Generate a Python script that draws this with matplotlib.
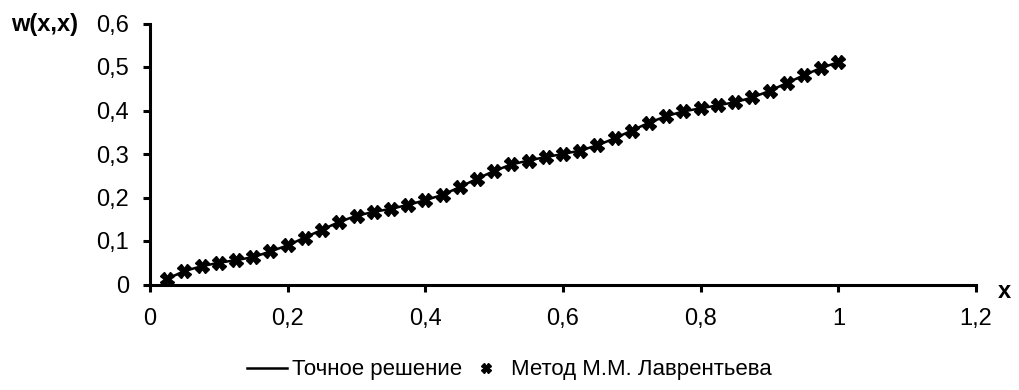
import matplotlib
matplotlib.use("Agg")
import matplotlib.pyplot as plt

plt.rcParams['font.family'] = ['Liberation Sans', 'DejaVu Sans']

# x nodes and values
x_nodes = [0.025 * i for i in range(1, 41)]
w_exact = [0.013, 0.031, 0.042, 0.050, 0.056, 0.063, 0.076, 0.090, 0.108, 0.126,
           0.144, 0.158, 0.167, 0.174, 0.183, 0.194, 0.206, 0.224, 0.243, 0.261,
           0.276, 0.285, 0.293, 0.300, 0.308, 0.320, 0.336, 0.354, 0.372, 0.387,
           0.398, 0.405, 0.412, 0.419, 0.430, 0.445, 0.463, 0.481, 0.498, 0.511]
w_method = list(w_exact)

x_ticks = [0, 0.2, 0.4, 0.6, 0.8, 1.0, 1.2]
x_labels = ["0", "0,2", "0,4", "0,6", "0,8", "1", "1,2"]
y_ticks = [0, 0.1, 0.2, 0.3, 0.4, 0.5, 0.6]
y_labels = ["0", "0,1", "0,2", "0,3", "0,4", "0,5", "0,6"]

W, H = 1019, 390
fig = plt.figure(figsize=(W / 100, H / 100), dpi=100)
ax = fig.add_axes([150 / W, 1 - 284.5 / H, 826 / W, 261 / H])

ax.plot(x_nodes, w_exact, color="black", lw=1.8, label="Точное решение", zorder=2)
ax.plot(x_nodes, w_method, ls="none", marker="X", ms=9.5, color="black",
        label="Метод М.М. Лаврентьева", zorder=3)

ax.set_xlim(0, 1.2)
ax.set_ylim(0, 0.6)
ax.set_xticks(x_ticks)
ax.set_xticklabels(x_labels)
ax.set_yticks(y_ticks)
ax.set_yticklabels(y_labels)
ax.tick_params(axis="both", labelsize=17, width=2.2, length=5, color="black", direction="out")
ax.tick_params(axis="x", pad=12)
ax.tick_params(axis="y", pad=10)
for s in ["top", "right"]:
    ax.spines[s].set_visible(False)
for s in ["left", "bottom"]:
    ax.spines[s].set_linewidth(2.2)

fig.text(11 / W, 1 - 24 / H, "w(x,x)", fontsize=17, fontweight="bold", va="center", ha="left")
fig.text(998 / W, 1 - 291 / H, "x", fontsize=17, fontweight="bold", va="center", ha="left")

fig.legend(loc="center", bbox_to_anchor=(0.5, 1 - 370 / H), ncol=2, frameon=False,
           fontsize=16, handlelength=1.8, handletextpad=0.2, columnspacing=0.2,
           markerscale=0.7)

fig.savefig("out.png", dpi=100)
